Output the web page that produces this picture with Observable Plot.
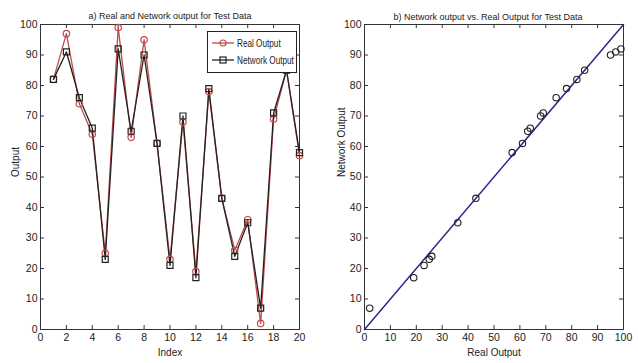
<!DOCTYPE html>
<html><head><meta charset="utf-8">
<script src="https://cdn.jsdelivr.net/npm/d3@7"></script>
<script src="https://cdn.jsdelivr.net/npm/@observablehq/plot@0.6"></script>
<style>
body{margin:0;background:#fff;}
#wrap{position:relative;width:638px;height:363px;overflow:hidden;background:#fff;font-family:"Liberation Sans",Arial,sans-serif;}
.panel{position:absolute;top:0;}
#legend{position:absolute;left:207px;top:31px;width:88px;height:40px;border:1px solid #222;background:#fff;font-size:10.5px;color:#222;}
#legend .row{position:absolute;left:4px;height:14px;display:flex;align-items:center;white-space:nowrap;}
#legend svg{margin-right:3px;}
#legend span{display:inline-block;transform:scaleX(0.78);transform-origin:left center;}
</style></head><body>
<div id="wrap"><div id="a" class="panel" style="left:0"></div><div id="b" class="panel" style="left:319px"></div>
<div id="legend">
 <div class="row" style="top:4px"><svg width="22" height="10"><line x1="0" y1="5" x2="22" y2="5" stroke="#c04a4a" stroke-width="1.3"/><circle cx="11" cy="5" r="3" fill="none" stroke="#c04a4a" stroke-width="1.2"/></svg><span>Real Output</span></div>
 <div class="row" style="top:21px"><svg width="22" height="10"><line x1="0" y1="5" x2="22" y2="5" stroke="#222" stroke-width="1.3"/><rect x="8" y="2" width="6" height="6" fill="none" stroke="#222" stroke-width="1.2"/></svg><span>Network Output</span></div>
</div>
</div>
<script>
const indexVals = [1,2,3,4,5,6,7,8,9,10,11,12,13,14,15,16,17,18,19,20];
const realOut   = [82,97,74,64,25,99,63,95,61,23,68,19,78,43,26,36,2,69,85,57];
const netOut    = [82,91,76,66,23,92,65,90,61,21,70,17,79,43,24,35,7,71,85,58];
const xTicksA = [0,2,4,6,8,10,12,14,16,18,20];
const yTicks  = [0,10,20,30,40,50,60,70,80,90,100];
const xTicksB = [0,10,20,30,40,50,60,70,80,90,100];
const fitX = [0,100];
const fitY = [0,100];

const font = '"Liberation Sans",Arial,sans-serif';
const red = "#c04a4a", blk = "#222";
const W = 319, H = 363, mt = 24, mb = 34;
const ph = H - mt - mb;
const tl = 4;

const rowsA = indexVals.map((d,i)=>({i:d, real:realOut[i], net:netOut[i]}));
const rowsB = indexVals.map((d,i)=>({real:realOut[i], net:netOut[i]}));

function boxTicks(xt, yt, pw) {
  return [
    Plot.ruleX(xt, {x: d=>d, insetTop: ph - tl, stroke: "#333"}),
    Plot.ruleX(xt, {x: d=>d, insetBottom: ph - tl, stroke: "#333"}),
    Plot.ruleY(yt, {y: d=>d, insetRight: pw - tl, stroke: "#333"}),
    Plot.ruleY(yt, {y: d=>d, insetLeft: pw - tl, stroke: "#333"}),
    Plot.frame({stroke: "#333", strokeWidth: 1}),
    Plot.axisX({ticks: xt, tickSize: 0, tickPadding: 4, label: null, fontSize: 10.5}),
    Plot.axisY({ticks: yt, tickSize: 0, tickPadding: 3, label: null, fontSize: 10.5})
  ];
}

const mlA = 40, mrA = 20;
const plotA = Plot.plot({
  width: W, height: H, marginTop: mt, marginBottom: mb, marginLeft: mlA, marginRight: mrA,
  style: {fontFamily: font, fontSize: "11px", background: "transparent", color: "#222"},
  x: {domain: [0,20]}, y: {domain: [0,100]},
  marks: [
    ...boxTicks(xTicksA, yTicks, W - mlA - mrA),
    Plot.line(rowsA, {x: "i", y: "real", stroke: red, strokeWidth: 1.3}),
    Plot.line(rowsA, {x: "i", y: "net", stroke: blk, strokeWidth: 1.3}),
    Plot.dot(rowsA, {x: "i", y: "real", r: 3.2, stroke: red, strokeWidth: 1.2}),
    Plot.dot(rowsA, {x: "i", y: "net", r: 3.4, symbol: "square", stroke: blk, strokeWidth: 1.2}),
    Plot.text(["a) Real and Network output for Test Data"], {text: d=>d, frameAnchor: "top", dy: -12, fontSize: 9}),
    Plot.text(["Index"], {text: d=>d, frameAnchor: "bottom", dy: 26, fontSize: 10}),
    Plot.text(["Output"], {text: d=>d, frameAnchor: "left", dx: -25, rotate: -90, fontSize: 10})
  ]
});
document.getElementById("a").append(plotA);

const mlB = 45, mrB = 15;
const plotB = Plot.plot({
  width: W, height: H, marginTop: mt, marginBottom: mb, marginLeft: mlB, marginRight: mrB,
  style: {fontFamily: font, fontSize: "11px", background: "transparent", color: "#222", overflow: "visible"},
  x: {domain: [0,100]}, y: {domain: [0,100]},
  marks: [
    ...boxTicks(xTicksB, yTicks, W - mlB - mrB),
    Plot.line(fitX.map((d,i)=>({x:d, y:fitY[i]})), {x: "x", y: "y", stroke: "#2a2a90", strokeWidth: 1.5}),
    Plot.dot(rowsB, {x: "real", y: "net", r: 3.2, stroke: blk, strokeWidth: 1.1}),
    Plot.text(["b) Network output vs. Real Output for Test Data"], {text: d=>d, frameAnchor: "top", dy: -11, dx: -6, fontSize: 9}),
    Plot.text(["Real Output"], {text: d=>d, frameAnchor: "bottom", dy: 26, fontSize: 10}),
    Plot.text(["Network Output"], {text: d=>d, frameAnchor: "left", dx: -23, rotate: -90, fontSize: 10})
  ]
});
document.getElementById("b").append(plotB);
</script>
</body></html>
